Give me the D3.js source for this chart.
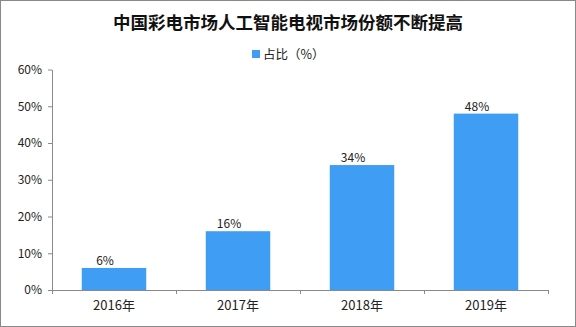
<!DOCTYPE html>
<html><head><meta charset="utf-8">
<script src="https://cdn.jsdelivr.net/npm/d3@7"></script>
<style>body{margin:0;background:#fff}svg{display:block}</style>
</head><body>
<script>
const categories = ["2016年", "2017年", "2018年", "2019年"];
const values = [6, 16, 34, 48];
const valueLabels = ["6%", "16%", "34%", "48%"];
const yTicks = [0, 10, 20, 30, 40, 50, 60];
const title = "中国彩电市场人工智能电视市场份额不断提高";
const legendLabel = "占比（%）";

const W = 576, H = 327;
const font = "SimSun, 'Noto Sans CJK SC', 'DejaVu Sans', sans-serif";
const svg = d3.select("body").append("svg").attr("width", W).attr("height", H);
svg.append("rect").attr("x", 0.5).attr("y", 0.5).attr("width", W - 1).attr("height", H - 1)
  .attr("fill", "#fff").attr("stroke", "#898989");

const x = d3.scaleBand().domain(categories).range([52, 548]).paddingInner(0.48).paddingOuter(0.24);
const y = d3.scaleLinear().domain([0, 60]).range([290, 69.5]);

svg.append("text").attr("x", 288).attr("y", 29).attr("text-anchor", "middle")
  .attr("font-family", font).attr("font-weight", "bold").attr("font-size", 17.5).attr("fill", "#111").text(title);

const lg = svg.append("g");
lg.append("rect").attr("x", 252).attr("y", 50).attr("width", 8).attr("height", 8).attr("fill", "#3f9ef3");
lg.append("text").attr("x", 263).attr("y", 59).attr("font-family", font).attr("font-size", 12.5).attr("fill", "#222").text(legendLabel);

// y axis
const ya = svg.append("g").attr("transform", "translate(52,0)")
  .call(d3.axisLeft(y).tickValues(yTicks).tickFormat(d => d + "%").tickSize(4).tickSizeOuter(0));
ya.select(".domain").attr("stroke", "#898989");
ya.selectAll(".tick line").attr("stroke", "#898989");
ya.selectAll(".tick text").attr("font-family", font).attr("font-size", 12).attr("fill", "#222").attr("dx", -3);

// bars
svg.selectAll(".bar").data(values).enter().append("rect")
  .attr("x", (d, i) => x(categories[i])).attr("width", x.bandwidth())
  .attr("y", d => y(d)).attr("height", d => y(0) - y(d)).attr("fill", "#3f9ef3");

svg.selectAll(".lbl").data(values).enter().append("text")
  .attr("x", (d, i) => x(categories[i]) + x.bandwidth() / 2 - 9).attr("y", d => y(d) - 3)
  .attr("text-anchor", "middle").attr("font-family", font).attr("font-size", 12).attr("fill", "#222")
  .text((d, i) => valueLabels[i]);

// x axis
const xa = svg.append("g").attr("transform", "translate(0,290)")
  .call(d3.axisBottom(x).tickSize(0).tickSizeOuter(0));
xa.select(".domain").attr("stroke", "#898989");
xa.selectAll(".tick text").attr("font-family", font).attr("font-size", 13).attr("fill", "#222").attr("dy", "1.3em");
// category boundary ticks
const bounds = categories.map(c => x(c) - x.step() * x.paddingInner() / 2).concat([548]);
svg.selectAll(".bt").data(bounds).enter().append("line")
  .attr("x1", d => Math.round(d) + 0.5).attr("x2", d => Math.round(d) + 0.5)
  .attr("y1", 290).attr("y2", 294).attr("stroke", "#898989");
</script>
</body></html>
